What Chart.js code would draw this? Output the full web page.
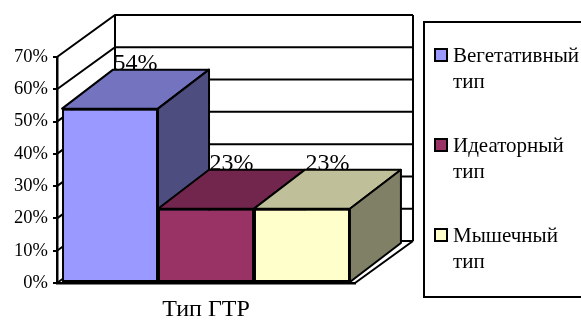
<!DOCTYPE html>
<html lang="ru">
<head>
<meta charset="UTF-8">
<title>Тип ГТР</title>
<script src="https://cdn.jsdelivr.net/npm/chart.js@4"></script>
<style>
  body { margin: 0; background: #ffffff; }
  #wrap { width: 581px; height: 320px; }
</style>
</head>
<body>
<div id="wrap"><canvas id="gtr" width="581" height="320"></canvas></div>
<script>
  // данные диаграммы
  const categories = ['Тип ГТР'];
  const seriesNames = [['Вегетативный', 'тип'], ['Идеаторный', 'тип'], ['Мышечный', 'тип']];
  const seriesValues = [54, 23, 23];
  const yTicks = [0, 10, 20, 30, 40, 50, 60, 70];

  const frontColors = ['#9999ff', '#993366', '#ffffcc'];
  const topColors = ['#7373bf', '#73264d', '#bfbf99'];
  const sideColors = ['#4d4d80', '#4d1a33', '#808066'];

  const SERIF = '"Liberation Serif", "Times New Roman", serif';
  const WALL = { dx: 58, dy: -42 };   // глубина стенок
  const BAR = { dx: 51, dy: -39 };    // глубина столбиков

  function poly(ctx, pts, fill) {
    ctx.beginPath();
    ctx.moveTo(pts[0][0], pts[0][1]);
    for (let k = 1; k < pts.length; k++) ctx.lineTo(pts[k][0], pts[k][1]);
    ctx.closePath();
    ctx.fillStyle = fill;
    ctx.fill();
    ctx.stroke();
  }

  const box3d = {
    id: 'box3d',
    beforeDatasetsDraw(chart) {
      const { ctx, chartArea: a, scales: { y } } = chart;
      const top = y.getPixelForValue(yTicks[yTicks.length - 1]);
      const bottom = y.getPixelForValue(0);
      ctx.save();
      ctx.strokeStyle = '#000';
      ctx.lineWidth = 2;
      ctx.beginPath();
      yTicks.forEach(v => {
        const py = y.getPixelForValue(v);
        ctx.moveTo(a.left, py);
        ctx.lineTo(a.left + WALL.dx, py + WALL.dy);
        ctx.lineTo(a.right + WALL.dx, py + WALL.dy);
      });
      ctx.moveTo(a.left + WALL.dx, top + WALL.dy);
      ctx.lineTo(a.left + WALL.dx, bottom + WALL.dy);
      ctx.moveTo(a.right + WALL.dx, top + WALL.dy);
      ctx.lineTo(a.right + WALL.dx, bottom + WALL.dy);
      ctx.moveTo(a.right, bottom);
      ctx.lineTo(a.right + WALL.dx, bottom + WALL.dy);
      ctx.stroke();
      ctx.restore();
    },
    afterDatasetsDraw(chart) {
      const ctx = chart.ctx;
      const tops = [];
      chart.data.datasets.forEach((ds, i) => {
        const bar = chart.getDatasetMeta(i).data[0];
        const { x, y, base, width } = bar.getProps(['x', 'y', 'base', 'width'], true);
        const l = x - width / 2, r = x + width / 2;
        bar.draw(ctx);
        ctx.save();
        ctx.strokeStyle = '#000';
        ctx.lineWidth = 2;
        ctx.lineJoin = 'round';
        poly(ctx, [[l, y], [r, y], [r + BAR.dx, y + BAR.dy], [l + BAR.dx, y + BAR.dy]], topColors[i]);
        poly(ctx, [[r, y], [r + BAR.dx, y + BAR.dy], [r + BAR.dx, base + BAR.dy], [r, base]], sideColors[i]);
        ctx.restore();
        tops.push([x + BAR.dx / 2, y + BAR.dy, ds.data[0]]);
      });
      ctx.save();
      ctx.fillStyle = '#000';
      ctx.font = '24px ' + SERIF;
      ctx.textAlign = 'center';
      ctx.textBaseline = 'alphabetic';
      tops.forEach(t => ctx.fillText(t[2] + '%', t[0], t[1]));
      ctx.restore();
    },
    afterDraw(chart) {
      const ctx = chart.ctx;
      ctx.save();
      ctx.strokeStyle = '#000';
      ctx.lineWidth = 2;
      ctx.strokeRect(424, 22, 170, 275);
      ctx.font = '21px ' + SERIF;
      ctx.textAlign = 'left';
      ctx.textBaseline = 'alphabetic';
      chart.data.datasets.forEach((ds, i) => {
        const base = 62 + i * 90;
        ctx.fillStyle = frontColors[i];
        ctx.fillRect(435, base - 13, 12, 12);
        ctx.strokeRect(435, base - 13, 12, 12);
        ctx.fillStyle = '#000';
        ds.label.forEach((line, j) => ctx.fillText(line, 453, base + j * 26));
      });
      ctx.restore();
    }
  };

  new Chart(document.getElementById('gtr'), {
    type: 'bar',
    data: {
      labels: categories,
      datasets: seriesValues.map((v, i) => ({
        label: seriesNames[i],
        data: [v],
        backgroundColor: frontColors[i],
        borderColor: '#000',
        borderWidth: 2,
        borderSkipped: false
      }))
    },
    options: {
      responsive: false,
      devicePixelRatio: 1,
      animation: false,
      layout: { padding: { left: 0, top: 57, right: 226, bottom: 0 } },
      datasets: { bar: { categoryPercentage: 0.966, barPercentage: 1 } },
      plugins: { legend: { display: false }, tooltip: { enabled: false } },
      scales: {
        x: {
          grid: { display: false },
          border: { display: true, color: '#000', width: 2.5 },
          ticks: { color: '#000', font: { family: SERIF, size: 24 }, padding: 4 },
          afterFit: s => { s.height = 37; }
        },
        y: {
          min: 0,
          max: 70,
          afterBuildTicks: s => { s.ticks = yTicks.map(v => ({ value: v })); },
          grid: { drawOnChartArea: false, drawTicks: true, tickLength: 4, color: '#000', lineWidth: 2 },
          border: { display: true, color: '#000', width: 2.5 },
          ticks: { color: '#000', font: { family: SERIF, size: 18.5 }, padding: 5, callback: v => v + '%' },
          afterFit: s => { s.width = 57; }
        }
      }
    },
    plugins: [box3d]
  });
</script>
</body>
</html>
